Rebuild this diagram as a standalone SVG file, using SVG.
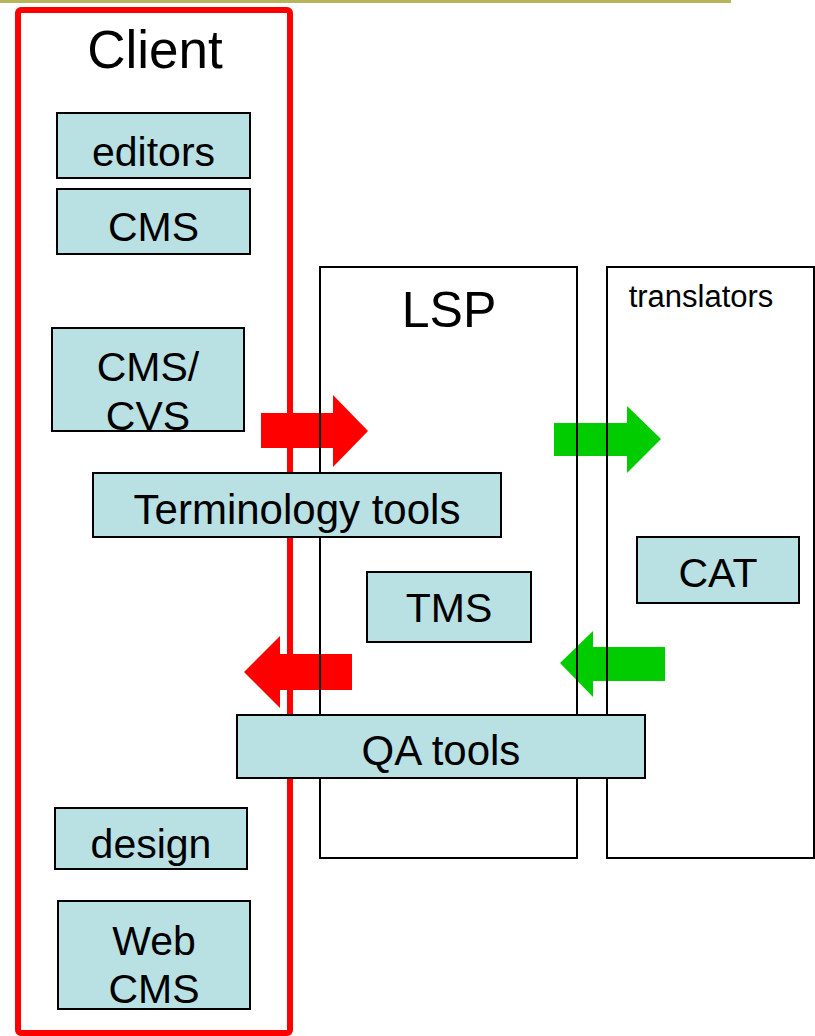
<svg xmlns="http://www.w3.org/2000/svg" width="815" height="1036" viewBox="0 0 815 1036">
  <style>
    text { font-family: "Liberation Sans", Arial, sans-serif; fill: #000; text-anchor: middle; }
    .box { fill: #b9e0e3; stroke: #000; stroke-width: 2; }
    .frame { fill: none; stroke: #000; stroke-width: 2; }
    .lbl { font-size: 41px; }
    .red { fill: #ff0000; }
    .green { fill: #00cc00; }
  </style>

  <!-- top rule -->
  <rect x="0" y="0" width="731" height="3" fill="#b6b55c"/>

  <!-- client area -->
  <g id="client">
    <rect x="18" y="10" width="272" height="1023" rx="3" fill="none" stroke="#ff0000" stroke-width="6"/>
    <text x="155" y="68" font-size="53">Client</text>
  </g>

  <!-- transfer arrows -->
  <g id="connectors">
    <polygon class="red" points="261,413 333,413 333,395 368,431 333,467 333,448 261,448"/>
    <polygon class="green" points="554,423 627,423 627,406 661,439 627,473 627,456 554,456"/>
    <polygon class="red" points="352,654 280,654 280,636 244,672 280,708 280,690 352,690"/>
    <polygon class="green" points="665,647 593,647 593,631 560,663 593,697 593,681 665,681"/>
  </g>

  <!-- LSP area -->
  <g id="lsp">
    <rect class="frame" x="320" y="267" width="257" height="591"/>
    <text x="449" y="327" font-size="50">LSP</text>
  </g>

  <!-- translators area -->
  <g id="translators">
    <rect class="frame" x="607" y="267" width="207" height="591"/>
    <text x="701" y="307" font-size="31">translators</text>
  </g>

  <g id="editors">
    <rect class="box" x="57" y="113" width="193" height="65"/>
    <text class="lbl" x="153.5" y="166">editors</text>
  </g>

  <g id="cms">
    <rect class="box" x="57" y="189" width="193" height="65"/>
    <text class="lbl" x="153.5" y="241">CMS</text>
  </g>

  <g id="cms-cvs">
    <rect x="52" y="328" width="192" height="103" fill="#b9e0e3"/>
    <text class="lbl" x="148" y="381">CMS/</text>
    <text class="lbl" x="148" y="430">CVS</text>
    <rect class="frame" x="52" y="328" width="192" height="103"/>
  </g>

  <g id="terminology-tools">
    <rect class="box" x="93" y="473" width="408" height="64"/>
    <text x="297" y="524" font-size="42">Terminology tools</text>
  </g>

  <g id="tms">
    <rect class="box" x="367" y="572" width="164" height="70"/>
    <text class="lbl" x="449" y="622">TMS</text>
  </g>

  <g id="cat">
    <rect class="box" x="637" y="537" width="162" height="66"/>
    <text class="lbl" x="718" y="587">CAT</text>
  </g>

  <g id="qa-tools">
    <rect class="box" x="237" y="715" width="408" height="63"/>
    <text x="441" y="765" font-size="42">QA tools</text>
  </g>

  <g id="design">
    <rect class="box" x="55" y="808" width="192" height="61"/>
    <text class="lbl" x="151" y="858">design</text>
  </g>

  <g id="web-cms">
    <rect class="box" x="58" y="901" width="192" height="108"/>
    <text class="lbl" x="154" y="955">Web</text>
    <text class="lbl" x="154" y="1003">CMS</text>
  </g>
</svg>
